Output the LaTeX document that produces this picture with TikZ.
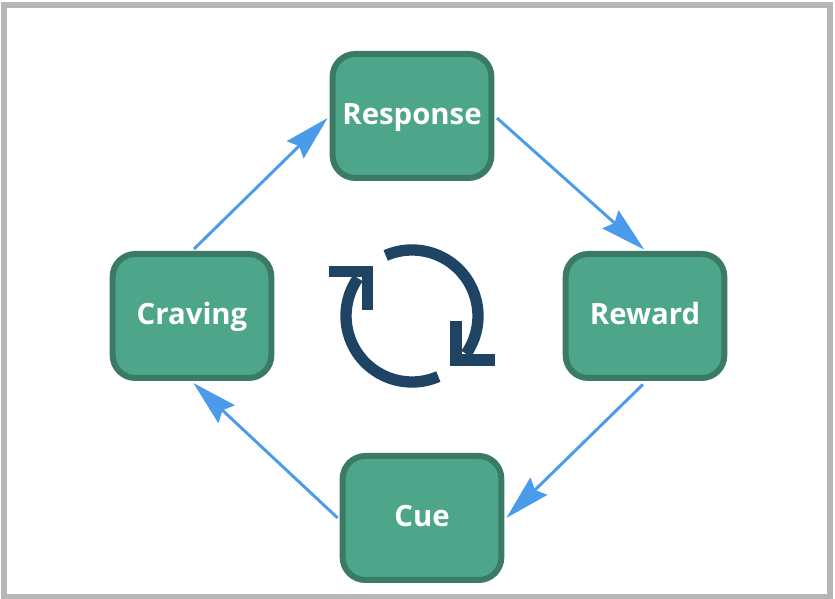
\documentclass[tikz,border=0pt]{standalone}
\usepackage{fontspec}
\setmainfont{Open Sans}
\usetikzlibrary{arrows.meta}
\definecolor{boxfill}{HTML}{4DA68A}
\definecolor{boxline}{HTML}{3A7A67}
\definecolor{flowblue}{HTML}{4A9BEA}
\definecolor{iconblue}{HTML}{1F4463}
\definecolor{framegray}{HTML}{B6B6B6}
\tikzset{
  habit/.style={draw=boxline,fill=boxfill,line width=4.5pt,rounded corners=17pt,
    minimum width=119pt,minimum height=93pt,text=white,inner sep=0pt,
    text height=18pt,text depth=5pt,
    font=\fontsize{22}{26}\selectfont\bfseries},
  flow/.style={draw=flowblue,line width=2.2pt,-{Stealth[length=34pt,width=18pt,inset=4pt]}},
  cycle/.style={draw=iconblue,line width=8.5pt,miter limit=10}
}
\begin{document}
\begin{tikzpicture}[x=.75pt,y=.75pt]
  \useasboundingbox (0,0) rectangle (835,599);
  \draw[framegray,line width=4.5pt] (4,1.5) rectangle (830,594);

  \node[habit] (response) at (412,483) {Response};
  \node[habit] (craving) at (192,283) {Craving};
  \node[habit] (reward) at (645,283) {Reward};
  \node[habit] (cue) at (422,81) {Cue};

  \draw[flow] ([xshift=2pt,yshift=-1.5pt]response.east) -- ([xshift=-.5pt,yshift=1pt]reward.north);
  \draw[flow] ([xshift=-1.5pt,yshift=-2.5pt]reward.south) -- ([xshift=1.5pt,yshift=0pt]cue.east);
  \draw[flow] ([xshift=-1.5pt,yshift=0pt]cue.west) -- ([xshift=1pt,yshift=-1.5pt]craving.south);
  \draw[flow] ([xshift=1.5pt,yshift=1.5pt]craving.north) -- ([xshift=-1.5pt,yshift=-1.5pt]response.west);

  % the turning arrows in the middle
  \draw[cycle] (412,283) ++(113.5:66) arc[start angle=113.5,end angle=-35,radius=66*.75pt];
  \draw[cycle] (412,283) ++(293.5:66) arc[start angle=293.5,end angle=145,radius=66*.75pt];
  \draw[cycle] (329,327.5) -- (367.5,327.5) -- (367.5,289);
  \draw[cycle] (456,278) -- (456,239) -- (495,239);
\end{tikzpicture}
\end{document}
